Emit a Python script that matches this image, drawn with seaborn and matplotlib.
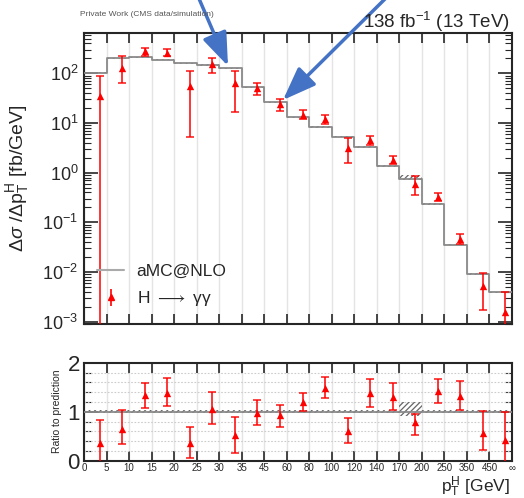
import numpy as np
import pandas as pd
import matplotlib
matplotlib.use("Agg")
import matplotlib.pyplot as plt
import seaborn as sns
from matplotlib.lines import Line2D
from matplotlib.ticker import FixedLocator, LogLocator, LogFormatterSciNotation, NullFormatter, MultipleLocator

# ---------------- data ----------------
edge_labels = ["0", "5", "10", "15", "20", "25", "30", "35", "45", "60", "80", "100",
               "120", "140", "170", "200", "250", "350", "450", "∞"]
mc = [103, 200, 210, 188, 159, 147, 126, 52, 26.3, 13.0, 8.3, 5.3, 3.3, 1.37,
      0.76, 0.235, 0.0358, 0.0091, 0.0039]
mc_up = [1.03] * 14 + [1.2] + [1.03] * 4
mc_dn = [0.97] * 14 + [0.92] + [0.97] * 4
data = [35, 126, 279, 259, 55, 152, 63, 50, 23.8, 14.5, 12.3, 3.2, 4.5, 1.78,
        0.58, 0.325, 0.046, 0.0052, 0.0016]
data_hi = [88, 220, 330, 313, 110, 202, 110, 65, 30, 18.3, 14.6, 4.9, 5.6, 2.18,
           0.85, 0.39, 0.059, 0.0097, 0.0039]
data_lo = [1e-5, 65, 223, 220, 5.3, 103, 17, 36, 17.5, 11.9, 9.7, 1.6, 3.6, 1.47,
           0.35, 0.265, 0.036, 0.0017, 1e-5]
ratio = [0.355, 0.64, 1.336, 1.385, 0.367, 1.06, 0.52, 0.97, 0.93, 1.2, 1.49,
         0.615, 1.385, 1.30, 0.79, 1.42, 1.33, 0.57, 0.42]
ratio_hi = [0.835, 1.04, 1.59, 1.68, 0.68, 1.41, 0.89, 1.23, 1.13, 1.385, 1.715,
            0.88, 1.67, 1.58, 0.96, 1.67, 1.62, 1.02, 1.0]
ratio_lo = [-0.1, 0.35, 1.076, 1.11, 0.05, 0.75, 0.155, 0.72, 0.685, 1.006, 1.275,
            0.355, 1.1, 1.04, 0.525, 1.18, 1.04, 0.22, -0.1]

# ---------------- style ----------------
sns.set_style("ticks")
plt.rcParams['font.family'] = ['Liberation Sans', 'DejaVu Sans']
plt.rcParams['mathtext.fontset'] = 'custom'
plt.rcParams['mathtext.rm'] = 'Liberation Sans'
plt.rcParams['mathtext.it'] = 'Liberation Sans:italic'
plt.rcParams['mathtext.bf'] = 'Liberation Sans:bold'
plt.rcParams['hatch.color'] = '#666666'
plt.rcParams['hatch.linewidth'] = 0.9

nb = len(mc)
edges = np.arange(nb + 1)
cent = np.arange(nb) + 0.7

fig = plt.figure(figsize=(5.24, 4.98), dpi=100)
ax = fig.add_axes([84/524, 1 - 324/498, 428/524, 291/498])
axr = fig.add_axes([84/524, 1 - 460.7/498, 428/524, 98/498])

gray = '#8a8a8a'
red = '#ff0000'

# upper panel
step_df = pd.DataFrame({"x": edges, "y": mc + [mc[-1]]})
up = np.array(mc) * np.array(mc_up)
dn = np.array(mc) * np.array(mc_dn)
ax.fill_between(edges, list(dn) + [dn[-1]], list(up) + [up[-1]], step='post',
                facecolor='none', edgecolor='#666666', hatch='//////', linewidth=0, zorder=2)
sns.lineplot(data=step_df, x="x", y="y", ax=ax, drawstyle='steps-post', color=gray,
             lw=1.3, estimator=None, sort=False, zorder=3)
d = np.array(data)
ax.errorbar(cent, d, yerr=[d - np.array(data_lo), np.array(data_hi) - d], fmt='none',
            ecolor=red, elinewidth=1.3, capsize=3, capthick=1.2, alpha=0.85, zorder=4)
sns.scatterplot(x=cent, y=d, ax=ax, marker='^', color=red, s=28, edgecolor=red,
                linewidth=0, zorder=5)
ax.set_yscale('log')
ax.set_ylim(9e-4, 650)
ax.set_xlim(0, nb)
ax.set_xticks(edges)
ax.set_xticklabels([])
ax.yaxis.set_major_locator(LogLocator(base=10, numticks=12))
ax.yaxis.set_major_formatter(LogFormatterSciNotation())
ax.yaxis.set_minor_locator(LogLocator(base=10, subs=np.arange(2, 10), numticks=12))
ax.yaxis.set_minor_formatter(NullFormatter())
ax.grid(axis='x', color='#e4e4e4', lw=1.0, zorder=0)
ax.set_axisbelow(True)
ax.tick_params(axis='both', which='both', direction='in', top=True, right=True)
ax.tick_params(axis='y', which='major', length=10, width=1.2, labelsize=13, pad=4)
ax.tick_params(axis='y', which='minor', length=5, width=0.8)
ax.tick_params(axis='x', which='major', length=7, width=1.2)
for s in ax.spines.values():
    s.set_linewidth(1.5)
ax.set_xlabel("")
ax.set_ylabel(r"$\Delta\sigma$ /$\Delta$p$_{\mathrm{T}}^{\mathrm{H}}$ [fb/GeV]", fontsize=14, labelpad=8)

handles = [Line2D([0], [0], color='#aaaaaa', lw=1.5),
           ax.errorbar([], [], yerr=[], fmt='^', color=red, ms=4, capsize=2.5, elinewidth=1.2)]
leg = ax.legend(handles, ["aMC@NLO", r"H $\longrightarrow$ γγ"], loc='lower left',
                bbox_to_anchor=(-0.005, 0.0), frameon=False, fontsize=12.5,
                handlelength=1.5, handletextpad=0.75, labelspacing=0.6)

# ratio panel
rup = np.array(mc_up)
rdn = np.array(mc_dn)
axr.fill_between(edges, list(rdn) + [rdn[-1]], list(rup) + [rup[-1]], step='post',
                 facecolor='none', edgecolor='#666666', hatch='//////', linewidth=0, zorder=2)
one_df = pd.DataFrame({"x": edges, "y": [1.0] * (nb + 1)})
sns.lineplot(data=one_df, x="x", y="y", ax=axr, color=gray, lw=1.3, estimator=None,
             sort=False, zorder=3)
r = np.array(ratio)
axr.errorbar(cent, r, yerr=[r - np.array(ratio_lo), np.array(ratio_hi) - r], fmt='none',
             ecolor=red, elinewidth=1.3, capsize=3, capthick=1.2, alpha=0.85, zorder=4)
sns.scatterplot(x=cent, y=r, ax=axr, marker='^', color=red, s=28, edgecolor=red,
                linewidth=0, zorder=5)
axr.set_ylim(0, 2)
axr.set_xlim(0, nb)
axr.set_xticks(edges)
axr.set_xticklabels(edge_labels, fontsize=7)
axr.set_yticks([0, 1, 2])
axr.yaxis.set_minor_locator(MultipleLocator(0.2))
for yv in [0.2, 0.4, 0.6, 0.8, 1.2, 1.4, 1.6, 1.8]:
    axr.axhline(yv, color='#cccccc', lw=0.8, ls=(0, (1.5, 1.5)), zorder=1)
axr.grid(axis='x', color='#e4e4e4', lw=1.0, zorder=0)
axr.set_axisbelow(True)
axr.tick_params(axis='both', which='both', direction='in', top=True, right=True)
axr.tick_params(axis='y', which='major', length=10, width=1.2, labelsize=16, pad=3)
axr.tick_params(axis='y', which='minor', length=5, width=0.8)
axr.tick_params(axis='x', which='major', length=7, width=1.2, pad=2)
for s in axr.spines.values():
    s.set_linewidth(1.5)
axr.set_ylabel("Ratio to prediction", fontsize=7.5, labelpad=4)
axr.set_xlabel("")
fig.text(510/524, 1 - 491.5/498, r"p$_{\mathrm{T}}^{\mathrm{H}}$ [GeV]", fontsize=12.5,
         ha='right', va='baseline')

# header texts
fig.text(80/524, 1 - 15/498, "Private Work (CMS data/simulation)", fontsize=6.0,
         color='#555555', ha='left', va='center')
fig.text(510/524, 1 - 22/498, r"138 fb$^{-1}$ (13 TeV)", fontsize=13.5,
         ha='right', va='center')

# arrows
blue = '#4472C4'
aprops = dict(arrowstyle='-|>,head_length=0.85,head_width=0.32', color=blue, lw=2.5,
              mutation_scale=24, shrinkA=0, shrinkB=0)
ax.annotate("", xy=(228, 498 - 66), xytext=(197, 498 + 6), xycoords='figure pixels',
            textcoords='figure pixels', arrowprops=aprops, annotation_clip=False)
ax.annotate("", xy=(283, 498 - 100), xytext=(390, 498 + 6), xycoords='figure pixels',
            textcoords='figure pixels', arrowprops=aprops, annotation_clip=False)

fig.savefig("out.png", dpi=100)
